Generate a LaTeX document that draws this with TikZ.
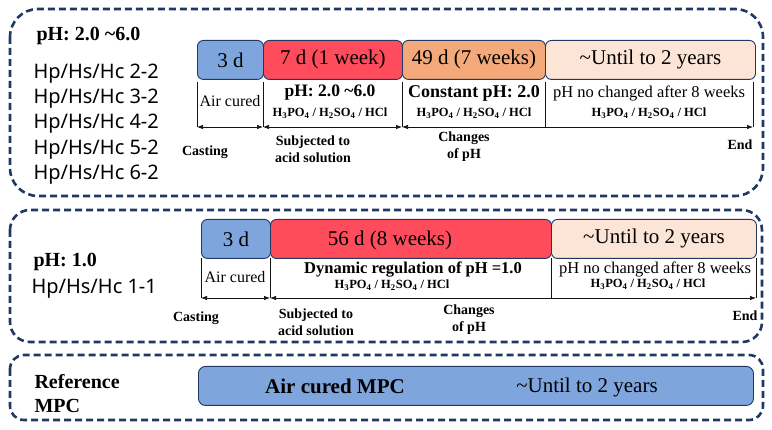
\documentclass[tikz,border=0pt]{standalone}
\usepackage{fontspec}
\setmainfont{Liberation Serif}
\newfontfamily\hpfont{Noto Sans}
\usepackage{tikz}
\usepackage{xcolor}
\usetikzlibrary{arrows.meta,positioning}
\definecolor{tlNavy}{RGB}{31,56,100}
\definecolor{tlBlue}{RGB}{127,166,220}
\definecolor{tlRed}{RGB}{255,76,92}
\definecolor{tlOrange}{RGB}{244,169,122}
\definecolor{tlPeach}{RGB}{252,228,214}
\definecolor{tlInk}{RGB}{20,20,20}
\newcommand{\tlsize}[1]{\fontsize{#1}{#1}\selectfont}
\newcommand{\acidmix}{\bfseries\tlsize{12.5}%
  H\textsubscript{3}PO\textsubscript{4} / H\textsubscript{2}SO\textsubscript{4} / HCl}

\begin{document}
\begin{tikzpicture}[x=1pt,y=-1pt,
  panel/.style={draw=tlNavy,line width=2.6pt,dash pattern=on 7pt off 4pt},
  phase/.style={draw=tlNavy,line width=0.9pt,rounded corners=6pt,anchor=north west,
    minimum height=39pt,inner sep=0pt,font=\rmfamily\tlsize{21}},
  tick/.style={draw=tlInk,line width=0.7pt},
  span/.style={draw=tlInk,line width=0.7pt,{Latex[length=6pt,width=4.5pt]}-{Latex[length=6pt,width=4.5pt]}},
  note/.style={font=\bfseries\tlsize{14},align=center},
  grp/.style={font=\bfseries\tlsize{20},anchor=west},
  mix/.style={font=\hpfont\tlsize{20},anchor=west}]
  \useasboundingbox (0,0) rectangle (772,430);
  \draw[panel,rounded corners=28pt] (10,9) rectangle (763,196);
  \draw[panel,rounded corners=20pt] (10,210) rectangle (762,342);
  \draw[panel,rounded corners=14pt] (10,355) rectangle (763,420);

  % first group
  \node[grp] (grpA) at (33,36) {pH: 2.0 \textasciitilde6.0};
  \foreach \n [count=\i] in {2,3,4,5,6}
    \node[mix] (mixA\n) at (30,48+25.3*\i) {Hp/Hs/Hc \n-2};
  \node[phase,fill=tlBlue,minimum width=66pt] (airA) at (197,40) {3 d};
  \node[phase,fill=tlRed,minimum width=139pt] (acidA) at (263,40) {7 d (1 week)};
  \node[phase,fill=tlOrange,minimum width=143pt] (constA) at (402,40) {49 d (7 weeks)};
  \node[phase,fill=tlPeach,minimum width=210pt] (keepA) at (545,40) {\textasciitilde Until to 2 years};
  \foreach \x [count=\i from 0] in {197,263,402,545,753}
    \coordinate (tA\i) at (\x,127);
  \foreach \i in {0,...,4}
    \draw[tick] (tA\i) -- ++(0,-45);
  \draw[span] (tA0) -- (tA1);
  \draw[span] (tA1) -- (tA2);
  \draw[span] (tA2) -- (tA4);
  \node[font=\tlsize{16}] (curedA) at (230,101) {Air cured};
  \node[font=\bfseries\tlsize{17.5}] (rangeA) at (330,93) {pH: 2.0 \textasciitilde6.0};
  \node (mixRangeA) at (330,113) {\acidmix};
  \node[font=\bfseries\tlsize{18}] (fixA) at (474,93) {Constant pH: 2.0};
  \node (mixFixA) at (474,113) {\acidmix};
  \node[font=\tlsize{16.5}] (stayA) at (649,93) {pH no changed after 8 weeks};
  \node (mixStayA) at (649,113) {\acidmix};
  \node[note] (castA) at (205,152) {Casting};
  \node[note] (subA) at (313,149) {Subjected to\\[3pt]acid solution};
  \node[note] (chgA) at (464,147) {Changes\\[3pt]of pH};
  \node[note] (endA) at (740,145) {End};

  % second group
  \node[grp] (grpB) at (30,262) {pH: 1.0};
  \node[mix] (mixB) at (28,289) {Hp/Hs/Hc 1-1};
  \node[phase,fill=tlBlue,minimum width=69pt] (airB) at (201,219) {3 d};
  \node[phase,fill=tlRed,minimum width=281pt] (acidB) at (270,219) {};
  \node[font=\tlsize{21}] (acidBtxt) at (390,240) {56 d (8 weeks)};
  \node[phase,fill=tlPeach,minimum width=205pt] (keepB) at (551,219) {\textasciitilde Until to 2 years};
  \foreach \x [count=\i from 0] in {201,270,551,756}
    \coordinate (tB\i) at (\x,298);
  \foreach \i in {0,...,3}
    \draw[tick] (tB\i) -- ++(0,-40);
  \draw[span] (tB0) -- (tB1);
  \draw[span] (tB1) -- (tB3);
  \node[font=\tlsize{16}] (curedB) at (235,277) {Air cured};
  \node[font=\bfseries\tlsize{16.5}] (dynB) at (413,270) {Dynamic regulation of pH =1.0};
  \node (mixDynB) at (392,285) {\acidmix};
  \node[font=\tlsize{16.5}] (stayB) at (655,269) {pH no changed after 8 weeks};
  \node (mixStayB) at (648,284) {\acidmix};
  \node[note] (castB) at (196,318) {Casting};
  \node[note] (subB) at (316,322) {Subjected to\\[3pt]acid solution};
  \node[note] (chgB) at (469,320) {Changes\\[3pt]of pH};
  \node[note] (endB) at (745,316) {End};

  % reference group
  \node[font=\bfseries\tlsize{20},align=left,anchor=west] (refC) at (31,394) {Reference\\[4pt]MPC};
  \node[phase,fill=tlBlue,minimum width=555pt,rounded corners=7pt] (airC) at (198,366) {};
  \node[font=\bfseries\tlsize{21}] (airCtxt) at (335,386) {Air cured MPC};
  \node[font=\tlsize{21}] (keepC) at (587,387) {\textasciitilde Until to 2 years};
\end{tikzpicture}
\end{document}
